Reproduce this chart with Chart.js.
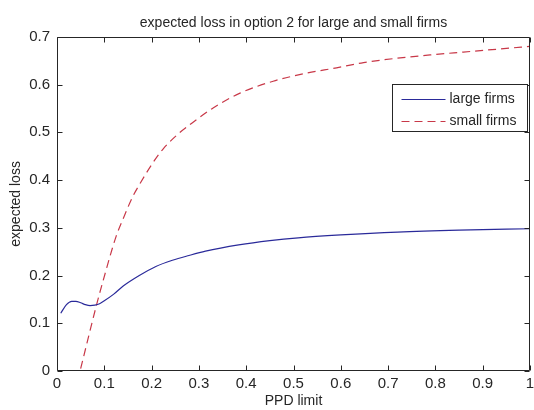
<!DOCTYPE html>
<html>
<head>
<meta charset="utf-8">
<script src="https://cdn.jsdelivr.net/npm/chart.js@4.4.0/dist/chart.umd.min.js"></script>
<style>
  html, body { margin: 0; padding: 0; background: #fff; overflow: hidden; }
</style>
</head>
<body>
<canvas id="lossChart" width="534" height="410"></canvas>
<script>
// expected loss against the PPD limit
var largeX = [0.008, 0.02, 0.031, 0.04, 0.05, 0.06, 0.07, 0.08, 0.09, 0.10, 0.12, 0.14, 0.174, 0.209, 0.244, 0.279, 0.314, 0.384, 0.45, 0.51, 0.60, 0.72, 0.85, 1.0];
var largeY = [0.121, 0.139, 0.146, 0.146, 0.143, 0.139, 0.137, 0.138, 0.141, 0.147, 0.161, 0.178, 0.200, 0.219, 0.232, 0.242, 0.251, 0.264, 0.273, 0.279, 0.285, 0.291, 0.295, 0.298];

var smallX = [0.050, 0.084, 0.098, 0.125, 0.139, 0.160, 0.174, 0.202, 0.225, 0.258, 0.281, 0.330, 0.387, 0.457, 0.528, 0.591, 0.648, 0.718, 0.789, 0.859, 0.93, 1.0];
var smallY = [0.005, 0.140, 0.191, 0.282, 0.317, 0.365, 0.390, 0.435, 0.466, 0.498, 0.516, 0.551, 0.582, 0.607, 0.624, 0.635, 0.646, 0.655, 0.662, 0.668, 0.674, 0.680];

var seriesNames = ['large firms', 'small firms'];
var titleText = 'expected loss in option 2 for large and small firms';
var xTitle = 'PPD limit';
var yTitle = 'expected loss';

var ink = '#262626';
var fontFamily = '"Liberation Sans", Arial, sans-serif';

function toPoints(xs, ys) {
    return xs.map(function(x, i) { return {x: x, y: ys[i]}; });
}

function shortTick(value) {
    return String(Number(value.toFixed(1)));
}

// box round the axes with inward ticks on all four sides
var axesBox = {
    id: 'axesBox',
    afterDatasetsDraw: function(chart) {
        var ctx = chart.ctx, a = chart.chartArea;
        var xs = chart.scales.x, ys = chart.scales.y;
        var l = Math.round(a.left) + 0.5, r = Math.round(a.right) - 0.5;
        var t = Math.round(a.top) + 0.5, b = Math.round(a.bottom) - 0.5;
        ctx.save();
        ctx.strokeStyle = ink;
        ctx.lineWidth = 1;
        ctx.beginPath();
        ctx.rect(l, t, r - l, b - t);
        xs.ticks.forEach(function(tk) {
            var px = Math.round(xs.getPixelForValue(tk.value)) + 0.5;
            ctx.moveTo(px, b); ctx.lineTo(px, b - 5);
            ctx.moveTo(px, t); ctx.lineTo(px, t + 5);
        });
        ys.ticks.forEach(function(tk) {
            var py = Math.round(ys.getPixelForValue(tk.value)) + 0.5;
            ctx.moveTo(l, py); ctx.lineTo(l + 5, py);
            ctx.moveTo(r, py); ctx.lineTo(r - 5, py);
        });
        ctx.stroke();
        ctx.restore();
    }
};

// legend box in the upper right corner of the axes
var cornerLegend = {
    id: 'cornerLegend',
    afterDraw: function(chart) {
        var ctx = chart.ctx, a = chart.chartArea;
        var w = 135, h = 47;
        var x0 = Math.round(a.right) - 3 - w + 0.5, y0 = Math.round(a.top) + 47 + 0.5;
        ctx.save();
        ctx.fillStyle = '#fff';
        ctx.fillRect(x0, y0, w, h);
        ctx.strokeStyle = ink;
        ctx.lineWidth = 1;
        ctx.strokeRect(x0, y0, w, h);
        ctx.font = '14px ' + fontFamily;
        ctx.textBaseline = 'middle';
        chart.data.datasets.forEach(function(ds, i) {
            var y = Math.round(y0 + 14 + i * 22) + 0.5;
            ctx.beginPath();
            ctx.strokeStyle = ds.borderColor;
            ctx.setLineDash(ds.borderDash || []);
            ctx.moveTo(x0 + 9, y);
            ctx.lineTo(x0 + 53, y);
            ctx.stroke();
            ctx.setLineDash([]);
            ctx.fillStyle = ink;
            ctx.fillText(ds.label, x0 + 57, y);
        });
        ctx.restore();
    }
};

var ctx = document.getElementById('lossChart');
var lossChart = new Chart(ctx, {
    type: 'line',
    data: {
        datasets: [{
            label: seriesNames[0],
            data: toPoints(largeX, largeY),
            borderColor: '#2a2a9a',
            borderWidth: 1.2,
            pointRadius: 0,
            cubicInterpolationMode: 'monotone',
            fill: false
        }, {
            label: seriesNames[1],
            data: toPoints(smallX, smallY),
            borderColor: '#c83848',
            borderWidth: 1.2,
            borderDash: [8, 5],
            pointRadius: 0,
            cubicInterpolationMode: 'monotone',
            fill: false
        }]
    },
    options: {
        responsive: false,
        animation: false,
        devicePixelRatio: 1,
        layout: { padding: { left: 0, right: 0, top: 0, bottom: 0 } },
        plugins: {
            legend: { display: false },
            tooltip: { enabled: false },
            title: {
                display: true,
                fullSize: false,
                text: titleText,
                color: ink,
                font: { family: fontFamily, size: 14, weight: 'normal' },
                padding: { top: 15, bottom: 5 }
            }
        },
        scales: {
            x: {
                type: 'linear',
                min: 0,
                max: 1,
                grid: { display: false, drawTicks: false },
                border: { display: false },
                ticks: {
                    stepSize: 0.1,
                    color: ink,
                    padding: 4,
                    maxRotation: 0,
                    font: { family: fontFamily, size: 15 },
                    callback: shortTick
                },
                title: {
                    display: true,
                    text: xTitle,
                    color: ink,
                    padding: { top: 0, bottom: 0 },
                    font: { family: fontFamily, size: 14 }
                },
                afterFit: function(scale) {
                    scale.height = 39;
                    scale.paddingRight = 4;
                }
            },
            y: {
                min: 0,
                max: 0.7,
                grid: { display: false, drawTicks: false },
                border: { display: false },
                ticks: {
                    stepSize: 0.1,
                    color: ink,
                    padding: 7,
                    font: { family: fontFamily, size: 15 },
                    callback: shortTick
                },
                title: {
                    display: true,
                    text: yTitle,
                    color: ink,
                    padding: { top: 8, bottom: 0 },
                    font: { family: fontFamily, size: 14 }
                },
                afterFit: function(scale) { scale.width = 57; }
            }
        }
    },
    plugins: [axesBox, cornerLegend]
});
</script>
</body>
</html>
